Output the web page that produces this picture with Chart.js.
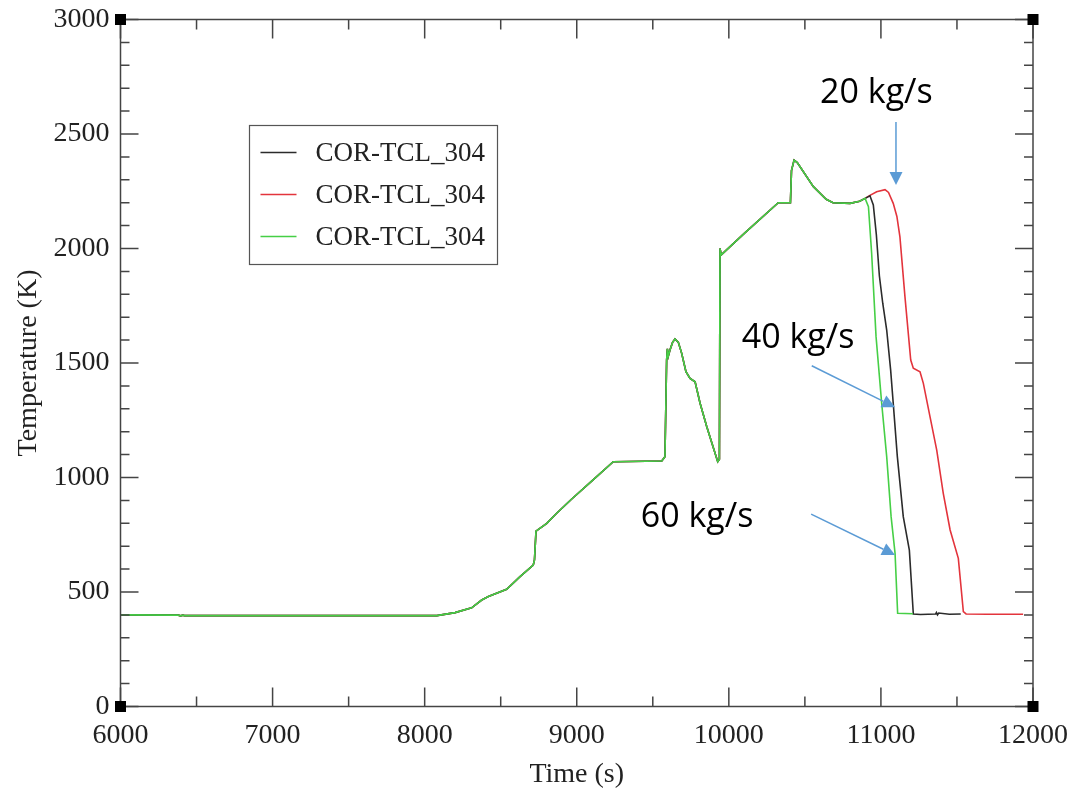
<!DOCTYPE html>
<html>
<head>
<meta charset="utf-8">
<script src="https://cdn.jsdelivr.net/npm/chart.js@4.4.0/dist/chart.umd.min.js"></script>
<style>
  html, body { margin: 0; padding: 0; background: #fff; }
  #wrap { width: 1088px; height: 791px; }
</style>
</head>
<body>
<div id="wrap"><canvas id="chart" width="1088" height="791"></canvas></div>
<script>

// shared history of COR-TCL_304 before the flow cases split (time s, temperature K)
var commonTime = [6000, 6380, 6395, 6410, 6420, 7000, 7838, 8080, 8200, 8309, 8375, 8419, 8539, 8627, 8714, 8722,
    8732, 8803, 8868, 8967, 9100, 9240, 9559, 9580, 9591, 9596, 9602, 9613, 9630, 9646, 9668, 9690, 9718, 9745,
    9778, 9811, 9855, 9927, 9938, 9942, 9950, 10100, 10325, 10405, 10412, 10429, 10450, 10556, 10640, 10685,
    10797, 10860, 10896];
var commonTemp = [400, 399, 396, 399, 397, 397, 397, 397, 410, 431, 465, 480, 512, 567, 618, 640,
    766, 800, 844, 906, 985, 1069, 1072, 1091, 1513, 1562, 1530, 1557, 1590, 1605, 1590, 1542, 1462, 1433,
    1418, 1324, 1222, 1069, 1080, 2000, 1972, 2065, 2200, 2200, 2340, 2386, 2375, 2270, 2215, 2200,
    2197, 2206, 2219];

// 40 kg/s case (black)
var time40 = [10928, 10950, 10970, 10990, 11012, 11038, 11064, 11081, 11108, 11147, 11187, 11213, 11260, 11360,
    11365, 11372, 11380, 11450, 11525];
var temp40 = [2230, 2190, 2060, 1880, 1761, 1644, 1469, 1324, 1091, 829, 683, 404, 402, 404,
    410, 400, 408, 403, 404];

// 20 kg/s case (red)
var time20 = [10928, 10972, 11027, 11050, 11081, 11105, 11125, 11158, 11196, 11213, 11257, 11279, 11323, 11367,
    11410, 11455, 11509, 11542, 11560, 11700, 11935];
var temp20 = [2232, 2248, 2257, 2245, 2197, 2140, 2051, 1790, 1513, 1477, 1462, 1411, 1265, 1120,
    931, 771, 647, 414, 404, 403, 403];

// 60 kg/s case (green)
var time60 = [10918, 10939, 10968, 11005, 11038, 11067, 11093, 11110, 11211];
var temp60 = [2183, 1979, 1615, 1324, 1091, 829, 669, 407, 405];

var seriesLabels = ['COR-TCL_304', 'COR-TCL_304', 'COR-TCL_304'];
var seriesColors = ['#2b2b2b', '#e3343c', '#46cf46'];

var xTicks = [6000, 7000, 8000, 9000, 10000, 11000, 12000];
var yTicks = [0, 500, 1000, 1500, 2000, 2500, 3000];

// flow-rate callouts: label, text anchor, arrow tail, arrow tip (data units)
var flowLabels = ['20 kg/s', '40 kg/s', '60 kg/s'];
var flowNotes = [
    { text: [10600, 2635], from: [11099, 2552], to: [11099, 2277] },
    { text: [10085, 1566], from: [10545, 1488], to: [11093, 1307] },
    { text: [9421, 784],   from: [10541, 840],  to: [11093, 662] }
];

function points(ts, vs) {
    var out = [];
    for (var i = 0; i < ts.length; i++) out.push({ x: ts[i], y: vs[i] });
    return out;
}

function withHistory(ts, vs) {
    return points(commonTime.concat(ts), commonTemp.concat(vs));
}

// axis frame with inward ticks on all four sides and the corner squares
var frame = {
    id: 'frame',
    afterDraw: function(chart) {
        var ctx = chart.ctx, a = chart.chartArea;
        var xs = chart.scales.x, ys = chart.scales.y;
        ctx.save();
        ctx.strokeStyle = '#444';
        ctx.lineWidth = 1.5;
        ctx.strokeRect(a.left, a.top, a.right - a.left, a.bottom - a.top);
        ctx.beginPath();
        for (var v = xs.min; v <= xs.max; v += 500) {
            var px = xs.getPixelForValue(v);
            var len = v % 1000 == 0 ? 19 : 10;
            ctx.moveTo(px, a.bottom); ctx.lineTo(px, a.bottom - len);
            ctx.moveTo(px, a.top); ctx.lineTo(px, a.top + len);
        }
        for (var w = ys.min; w <= ys.max; w += 100) {
            var py = ys.getPixelForValue(w);
            var l2 = w % 500 == 0 ? 18 : 9;
            ctx.moveTo(a.left, py); ctx.lineTo(a.left + l2, py);
            ctx.moveTo(a.right, py); ctx.lineTo(a.right - l2, py);
        }
        ctx.stroke();
        ctx.fillStyle = '#000';
        [[a.left, a.top], [a.right, a.top], [a.left, a.bottom], [a.right, a.bottom]].forEach(function(c) {
            ctx.fillRect(c[0] - 5.5, c[1] - 5.5, 11, 11);
        });
        ctx.restore();
    }
};

var legendBox = {
    id: 'legendBox',
    afterDraw: function(chart) {
        var ctx = chart.ctx, a = chart.chartArea;
        var x0 = a.left + 129, y0 = a.top + 106, w = 248, h = 139;
        ctx.save();
        ctx.fillStyle = '#fff';
        ctx.fillRect(x0, y0, w, h);
        ctx.strokeStyle = '#555';
        ctx.lineWidth = 1.2;
        ctx.strokeRect(x0, y0, w, h);
        ctx.font = '27px "Liberation Serif"';
        ctx.textBaseline = 'middle';
        chart.data.datasets.forEach(function(ds, i) {
            var y = y0 + 27 + i * 42;
            ctx.strokeStyle = ds.borderColor;
            ctx.lineWidth = 1.5;
            ctx.beginPath();
            ctx.moveTo(x0 + 11, y);
            ctx.lineTo(x0 + 47, y);
            ctx.stroke();
            ctx.fillStyle = '#222';
            ctx.fillText(ds.label, x0 + 66, y + 1);
        });
        ctx.restore();
    }
};

var callouts = {
    id: 'callouts',
    afterDraw: function(chart) {
        var ctx = chart.ctx, xs = chart.scales.x, ys = chart.scales.y;
        ctx.save();
        ctx.font = '34px "Open Sans"';
        ctx.textBaseline = 'alphabetic';
        flowNotes.forEach(function(n, i) {
            ctx.fillStyle = '#000';
            ctx.fillText(flowLabels[i], xs.getPixelForValue(n.text[0]), ys.getPixelForValue(n.text[1]));
            var x1 = xs.getPixelForValue(n.from[0]), y1 = ys.getPixelForValue(n.from[1]);
            var x2 = xs.getPixelForValue(n.to[0]), y2 = ys.getPixelForValue(n.to[1]);
            var ang = Math.atan2(y2 - y1, x2 - x1), head = 13, half = 6.5;
            var bx = x2 - head * Math.cos(ang), by = y2 - head * Math.sin(ang);
            ctx.strokeStyle = '#5b9bd5';
            ctx.fillStyle = '#5b9bd5';
            ctx.lineWidth = 1.5;
            ctx.beginPath();
            ctx.moveTo(x1, y1);
            ctx.lineTo(bx, by);
            ctx.stroke();
            ctx.beginPath();
            ctx.moveTo(x2, y2);
            ctx.lineTo(bx + half * Math.sin(ang), by - half * Math.cos(ang));
            ctx.lineTo(bx - half * Math.sin(ang), by + half * Math.cos(ang));
            ctx.closePath();
            ctx.fill();
        });
        ctx.restore();
    }
};

Chart.defaults.font.family = '"Liberation Serif"';
Chart.defaults.color = '#222';

function plainNumber(v) { return String(v); }

function makeChart() {
    var ctx = document.getElementById('chart').getContext('2d');
    var chart = new Chart(ctx, {
        type: 'line',
        data: {
            datasets: [{
                label: seriesLabels[0],
                data: withHistory(time40, temp40),
                borderColor: seriesColors[0],
                order: 1
            }, {
                label: seriesLabels[1],
                data: withHistory(time20, temp20),
                borderColor: seriesColors[1],
                order: 2
            }, {
                label: seriesLabels[2],
                data: withHistory(time60, temp60),
                borderColor: seriesColors[2],
                order: 0
            }]
        },
        options: {
            responsive: false,
            animation: false,
            devicePixelRatio: 1,
            layout: { padding: { top: 19.5, right: 55, left: 0, bottom: 0 } },
            elements: {
                point: { radius: 0 },
                line: { borderWidth: 1.6, tension: 0 }
            },
            plugins: {
                legend: { display: false },
                tooltip: { enabled: false }
            },
            scales: {
                x: {
                    type: 'linear',
                    min: 6000,
                    max: 12000,
                    afterBuildTicks: function(s) { s.ticks = xTicks.map(function(v) { return { value: v }; }); },
                    afterFit: function(s) { s.height = 84.5; s.paddingLeft = 0; s.paddingRight = 0; },
                    grid: { display: false, drawTicks: false },
                    border: { display: false },
                    ticks: { font: { size: 28 }, padding: 12, maxRotation: 0, callback: plainNumber },
                    title: { display: true, text: 'Time (s)', font: { size: 28 }, padding: { top: 0, bottom: 0 } }
                },
                y: {
                    type: 'linear',
                    min: 0,
                    max: 3000,
                    afterBuildTicks: function(s) { s.ticks = yTicks.map(function(v) { return { value: v }; }); },
                    afterFit: function(s) { s.width = 120.5; s.paddingTop = 0; s.paddingBottom = 0; },
                    grid: { display: false, drawTicks: false },
                    border: { display: false },
                    ticks: { font: { size: 28 }, padding: 11, callback: plainNumber },
                    title: { display: true, text: 'Temperature (K)', font: { size: 28 }, padding: { top: 12, bottom: 0 } }
                }
            }
        },
        plugins: [frame, legendBox, callouts]
    });
}

makeChart();
</script>
</body>
</html>
